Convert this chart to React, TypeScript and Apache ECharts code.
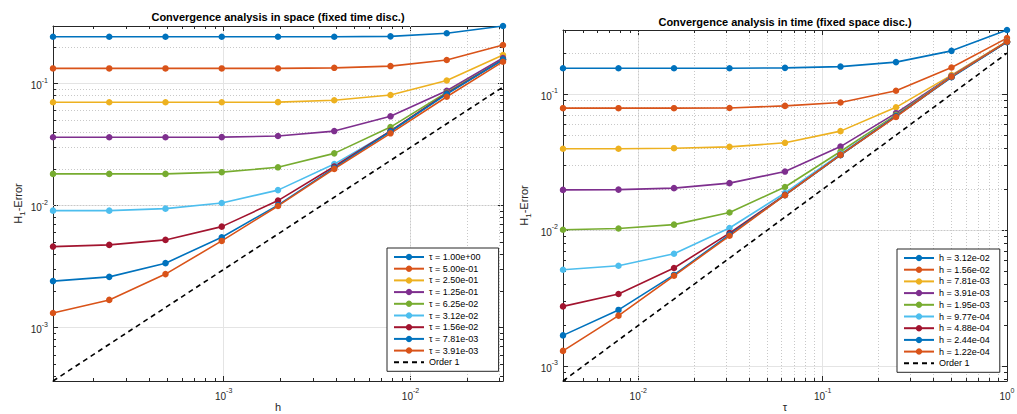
import { useEffect, useRef } from 'react';
import * as echarts from 'echarts';

const FONT = "'Liberation Sans', Arial, Helvetica, sans-serif";
const AXIS_COLOR = '#262626';

// x values
const hValues = [1.2207e-4, 2.4414e-4, 4.8828e-4, 9.7656e-4, 1.9531e-3, 3.9063e-3, 7.8125e-3, 1.5625e-2, 3.125e-2];
const tauValues = [3.9063e-3, 7.8125e-3, 1.5625e-2, 3.125e-2, 6.25e-2, 0.125, 0.25, 0.5, 1];

// legend names
const spaceNames = ['τ = 1.00e+00', 'τ = 5.00e-01', 'τ = 2.50e-01', 'τ = 1.25e-01', 'τ = 6.25e-02', 'τ = 3.12e-02', 'τ = 1.56e-02', 'τ = 7.81e-03', 'τ = 3.91e-03'];
const timeNames = ['h = 3.12e-02', 'h = 1.56e-02', 'h = 7.81e-03', 'h = 3.91e-03', 'h = 1.95e-03', 'h = 9.77e-04', 'h = 4.88e-04', 'h = 2.44e-04', 'h = 1.22e-04'];
const orderName = 'Order 1';

// space convergence errors (one array per tau)
const sTau1 = [0.2415, 0.2415, 0.2415, 0.2415, 0.2415, 0.2418, 0.2435, 0.258, 0.296];
const sTau2 = [0.133, 0.133, 0.133, 0.133, 0.133, 0.1345, 0.139, 0.156, 0.207];
const sTau3 = [0.0702, 0.0702, 0.0702, 0.0702, 0.0704, 0.0729, 0.0805, 0.106, 0.171];
const sTau4 = [0.0363, 0.0363, 0.0363, 0.0364, 0.0372, 0.0408, 0.0539, 0.0873, 0.162];
const sTau5 = [0.0182, 0.0182, 0.0182, 0.0188, 0.0206, 0.0268, 0.044, 0.0844, 0.157];
const sTau6 = [0.0091, 0.0091, 0.00945, 0.0105, 0.0134, 0.0219, 0.0405, 0.083, 0.156];
const sTau7 = [0.00462, 0.00477, 0.00524, 0.00673, 0.011, 0.0209, 0.041, 0.083, 0.157];
const sTau8 = [0.00241, 0.00261, 0.00338, 0.00551, 0.0101, 0.0204, 0.0405, 0.082, 0.157];
const sTau9 = [0.00132, 0.00169, 0.00275, 0.00514, 0.00994, 0.02, 0.0391, 0.078, 0.151];
const spaceOrder1 = [3.662e-4, 7.324e-4, 1.4648e-3, 2.9297e-3, 5.8594e-3, 1.1719e-2, 2.3438e-2, 4.6875e-2, 9.375e-2];

// time convergence errors (one array per h)
const tH1 = [0.155, 0.155, 0.155, 0.155, 0.156, 0.1594, 0.172, 0.208, 0.296];
const tH2 = [0.0789, 0.0789, 0.0789, 0.0792, 0.082, 0.0868, 0.106, 0.157, 0.258];
const tH3 = [0.0397, 0.0397, 0.0401, 0.041, 0.0439, 0.0535, 0.08, 0.138, 0.245];
const tH4 = [0.0198, 0.0199, 0.0204, 0.0222, 0.027, 0.0412, 0.0725, 0.136, 0.243];
const tH5 = [0.0101, 0.0103, 0.011, 0.0135, 0.0208, 0.0379, 0.0705, 0.135, 0.242];
const tH6 = [0.00513, 0.00549, 0.00672, 0.0104, 0.0188, 0.0364, 0.0693, 0.135, 0.242];
const tH7 = [0.00276, 0.0034, 0.00528, 0.00954, 0.0182, 0.0358, 0.069, 0.134, 0.242];
const tH8 = [0.00169, 0.0026, 0.0047, 0.0093, 0.0181, 0.0356, 0.0687, 0.133, 0.241];
const tH9 = [0.0013, 0.00236, 0.00463, 0.00911, 0.0181, 0.0358, 0.068, 0.1346, 0.243];
const timeOrder1 = [7.8125e-4, 1.5625e-3, 3.125e-3, 6.25e-3, 1.25e-2, 2.5e-2, 5e-2, 0.1, 0.2];

const spaceSets = [sTau1, sTau2, sTau3, sTau4, sTau5, sTau6, sTau7, sTau8, sTau9];
const timeSets = [tH1, tH2, tH3, tH4, tH5, tH6, tH7, tH8, tH9];

const lineColors = ['#0072BD', '#D95319', '#EDB120', '#7E2F8E', '#77AC30', '#4DBEEE', '#A2142F', '#0072BD', '#D95319'];

function decadeLabel(v: number) {
  const e = Math.log10(v);
  const r = Math.round(e);
  if (Math.abs(e - r) > 1e-6) return '';
  return `{b|10}{s|${r}}`;
}

const labelRich = {
  b: { fontSize: 10, fontFamily: FONT, color: AXIS_COLOR, lineHeight: 14, verticalAlign: 'bottom' },
  s: { fontSize: 7, fontFamily: FONT, color: AXIS_COLOR, lineHeight: 9, verticalAlign: 'top' },
};

function minorValues(min: number, max: number) {
  const out: number[] = [];
  for (let k = Math.floor(Math.log10(min)); k <= Math.ceil(Math.log10(max)); k++) {
    for (let m = 2; m <= 9; m++) {
      const v = m * Math.pow(10, k);
      if (v > min * 1.0001 && v < max * 0.9999) out.push(v);
    }
  }
  return out;
}

function extent(arrs: number[][]) {
  const all = arrs.flat();
  return [Math.min(...all), Math.max(...all)];
}

const MINOR_TICK_PX = 3;

function buildPanel(
  gi: number, xs: number[], sets: number[][], order1: number[], names: string[],
  xName: string, yGap: number, gridW: number, gridH: number,
) {
  const xExt = extent([xs]);
  const yExt = extent([...sets, order1]);
  const axBase = {
    type: 'log',
    logBase: 10,
    gridIndex: gi,
    axisLine: { show: true, onZero: false, lineStyle: { color: AXIS_COLOR, width: 1 } },
    axisTick: { show: true, inside: true, length: 5, lineStyle: { color: AXIS_COLOR, width: 1 } },
  };
  const xAxes = [
    {
      ...axBase, position: 'bottom', min: xExt[0], max: xExt[1],
      axisLabel: { formatter: decadeLabel, rich: labelRich, margin: 6, showMinLabel: true, showMaxLabel: true },
      splitLine: { show: true, lineStyle: { color: '#e4e4e4', width: 1 } },
      name: xName, nameLocation: 'middle', nameGap: 20, nameMoveOverlap: false,
      nameTextStyle: { fontSize: 11, color: AXIS_COLOR, fontFamily: FONT },
    },
    { ...axBase, position: 'top', min: xExt[0], max: xExt[1], axisLabel: { show: false }, splitLine: { show: false } },
  ];
  const yAxes = [
    {
      ...axBase, position: 'left', min: yExt[0], max: yExt[1],
      axisLabel: { formatter: decadeLabel, rich: labelRich, margin: 5 },
      splitLine: { show: true, lineStyle: { color: '#e4e4e4', width: 1 } },
      name: '{n|H}{sub|1}{n|-Error}', nameLocation: 'middle', nameGap: yGap, nameMoveOverlap: false,
      nameTextStyle: {
        rich: {
          n: { fontSize: 11, color: AXIS_COLOR, fontFamily: FONT, lineHeight: 16 },
          sub: { fontSize: 8, color: AXIS_COLOR, fontFamily: FONT, lineHeight: 8, verticalAlign: 'bottom' },
        },
      },
    },
    { ...axBase, position: 'right', min: yExt[0], max: yExt[1], axisLabel: { show: false }, splitLine: { show: false } },
  ];
  const xi = gi * 2;
  const minorX = minorValues(xExt[0], xExt[1]);
  const minorY = minorValues(yExt[0], yExt[1]);
  // factors that correspond to a short tick length along each log axis
  const fy = Math.pow(yExt[1] / yExt[0], MINOR_TICK_PX / gridH);
  const fx = Math.pow(xExt[1] / xExt[0], MINOR_TICK_PX / gridW);
  const series: any[] = [];
  series.push({
    type: 'line', xAxisIndex: xi, yAxisIndex: xi, data: [], silent: true, z: 1,
    markLine: {
      silent: true, symbol: ['none', 'none'], z: 1, animation: false,
      label: { show: false },
      lineStyle: { color: '#c8c8c8', type: [1, 2], width: 1 },
      emphasis: { disabled: true },
      data: [...minorX.map((v) => ({ xAxis: v })), ...minorY.map((v) => ({ yAxis: v }))],
    },
  });
  series.push({
    type: 'line', xAxisIndex: xi, yAxisIndex: xi, data: [], silent: true, z: 3,
    markLine: {
      silent: true, symbol: ['none', 'none'], z: 3, animation: false,
      label: { show: false },
      lineStyle: { color: AXIS_COLOR, type: 'solid', width: 1 },
      emphasis: { disabled: true },
      data: [
        ...minorX.map((v) => [{ coord: [v, yExt[0]] }, { coord: [v, yExt[0] * fy] }]),
        ...minorX.map((v) => [{ coord: [v, yExt[1]] }, { coord: [v, yExt[1] / fy] }]),
        ...minorY.map((v) => [{ coord: [xExt[0], v] }, { coord: [xExt[0] * fx, v] }]),
        ...minorY.map((v) => [{ coord: [xExt[1], v] }, { coord: [xExt[1] / fx, v] }]),
      ],
    },
  });
  sets.forEach((ys, i) => {
    series.push({
      type: 'line', name: names[i], xAxisIndex: xi, yAxisIndex: xi,
      data: xs.map((x, j) => [x, ys[j]]),
      symbol: 'circle', symbolSize: 6.5, showSymbol: true,
      lineStyle: { width: 1.6, color: lineColors[i] },
      itemStyle: { color: lineColors[i] },
      emphasis: { disabled: true },
      z: 4,
    });
  });
  series.push({
    type: 'line', name: orderName, xAxisIndex: xi, yAxisIndex: xi,
    data: xs.map((x, j) => [x, order1[j]]),
    symbol: 'none', showSymbol: false,
    lineStyle: { width: 1.6, color: '#000', type: [5, 4] },
    itemStyle: { color: '#000', opacity: 0 },
    emphasis: { disabled: true },
    z: 4,
  });
  return { xAxes, yAxes, series };
}

export default function App() {
  const ref = useRef<HTMLDivElement>(null);
  useEffect(() => {
    if (!ref.current) return;
    const chart = echarts.init(ref.current, undefined, { renderer: 'svg' });
    const p0 = buildPanel(0, hValues, spaceSets, spaceOrder1, spaceNames, 'h', 27, 450, 355);
    const p1 = buildPanel(1, tauValues, timeSets, timeOrder1, timeNames, 'τ', 31, 444, 351);
    const legendBase = {
      orient: 'vertical', itemWidth: 30, itemHeight: 8, itemGap: 1.7,
      backgroundColor: '#fff', borderColor: AXIS_COLOR, borderWidth: 1, borderRadius: 0,
      selectedMode: false, z: 10,
      textStyle: { fontSize: 9, fontFamily: FONT, color: '#000', lineHeight: 10 },
    };
    const orderItem = { name: orderName, itemStyle: { opacity: 0 } };
    chart.setOption({
      animation: false,
      backgroundColor: '#fff',
      textStyle: { fontFamily: FONT },
      grid: [
        { left: 53, top: 26, width: 450, height: 355, containLabel: false, outerBoundsMode: 'none' },
        { left: 563, top: 30, width: 444, height: 351, containLabel: false, outerBoundsMode: 'none' },
      ],
      xAxis: [...p0.xAxes, ...p1.xAxes],
      yAxis: [...p0.yAxes, ...p1.yAxes],
      legend: [
        { ...legendBase, left: 387, top: 248, padding: [4, 18, 4, 6], data: [...spaceNames, orderItem] },
        { ...legendBase, left: 897, top: 249, padding: [4, 10, 4, 6], data: [...timeNames, orderItem] },
      ],
      graphic: [
        {
          type: 'text', x: 278, y: 17,
          style: {
            text: 'Convergence analysis in space (fixed time disc.)',
            fontSize: 11, fontWeight: 'bold', fontFamily: FONT, fill: '#000',
            align: 'center', verticalAlign: 'middle', textAlign: 'center', textVerticalAlign: 'middle',
          },
        },
        {
          type: 'text', x: 785, y: 22,
          style: {
            text: 'Convergence analysis in time (fixed space disc.)',
            fontSize: 11, fontWeight: 'bold', fontFamily: FONT, fill: '#000',
            align: 'center', verticalAlign: 'middle', textAlign: 'center', textVerticalAlign: 'middle',
          },
        },
      ],
      series: [...p0.series, ...p1.series],
    });
    return () => chart.dispose();
  }, []);
  return <div ref={ref} style={{ position: 'fixed', left: 0, top: 0, width: 1017, height: 414 }} />;
}
